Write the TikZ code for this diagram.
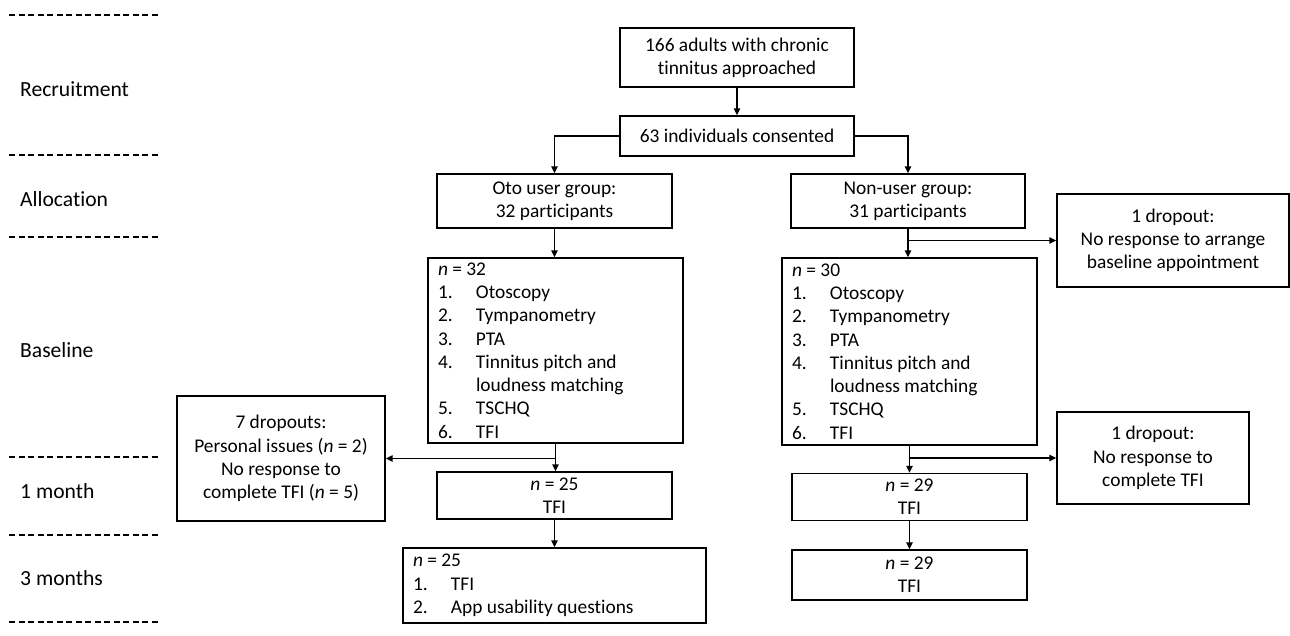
\documentclass[tikz,border=0pt]{standalone}
\usepackage{fontspec}
\setmainfont{Carlito}[Ligatures=NoCommon]
\usetikzlibrary{positioning,arrows.meta}

\newcommand{\listno}[1]{\makebox[38pt][l]{#1}}

\begin{document}
\begin{tikzpicture}[x=1pt,y=-1pt,
                every node/.style={font=\fontsize{19.4}{23.3}\selectfont},
                box/.style={draw, line width=1.4pt, inner sep=0pt, align=center},
                listbox/.style={draw, line width=1.4pt, inner xsep=10pt, inner ysep=0pt, align=flush left},
                stage/.style={anchor=west, inner sep=0pt, font=\fontsize{21.6}{26}\selectfont},
                sep/.style={line width=1.4pt, dash pattern=on 6pt off 3.5pt},
                flow/.style={line width=1.4pt, -{Triangle[length=7pt,width=6.5pt]}}]
            \useasboundingbox (0,0) rectangle (1290,635);

            \foreach \y in {15,155,237,457,535,622}
                \draw[sep] (9,\y) -- (161,\y);

            \node[stage] (recr) at (20,89) {Recruitment};
            \node[stage] (allo) at (20,199) {Allocation};
            \node[stage] (base) at (20,350) {Baseline};
            \node[stage] (mon1) at (20,491) {1 month};
            \node[stage] (mon3) at (20,578) {3 months};

            \node[box, minimum width=234pt, minimum height=59pt] (appr) at (737,57.5) {166 adults with chronic\\tinnitus approached};
            \node[box, minimum width=234pt, minimum height=40pt] (cons) at (737,136) {63 individuals consented};
            \node[box, minimum width=235pt, minimum height=54pt] (oto) at (554.5,201) {Oto user group:\\32 participants};
            \node[box, minimum width=234pt, minimum height=54pt] (non) at (908,201) {Non-user group:\\31 participants};
            \node[box, minimum width=232pt, minimum height=93pt] (drop1) at (1173,240.5) {1 dropout:\\No response to arrange\\baseline appointment};

            \node[listbox, text width=235pt, minimum height=185pt] (base1) at (555.5,350.5)
                {\textit{n} = 32\\\listno{1.}Otoscopy\\\listno{2.}Tympanometry\\\listno{3.}PTA\\\listno{4.}Tinnitus pitch and\\\listno{}loudness matching\\\listno{5.}TSCHQ\\\listno{6.}TFI};
            \node[listbox, text width=235pt, minimum height=187pt] (base2) at (909.5,351.5)
                {\textit{n} = 30\\\listno{1.}Otoscopy\\\listno{2.}Tympanometry\\\listno{3.}PTA\\\listno{4.}Tinnitus pitch and\\\listno{}loudness matching\\\listno{5.}TSCHQ\\\listno{6.}TFI};

            \node[box, minimum width=208pt, minimum height=125pt] (drop7) at (281,458.5) {7 dropouts:\\Personal issues (\textit{n} = 2)\\No response to\\complete TFI (\textit{n} = 5)};
            \node[box, minimum width=192pt, minimum height=92pt] (drop2) at (1153,458) {1 dropout:\\No response to\\complete TFI};

            \node[box, minimum width=235pt, minimum height=47pt] (fu1a) at (554.5,495.5) {\textit{n} = 25\\TFI};
            \node[box, minimum width=235pt, minimum height=47pt] (fu1b) at (909.5,497) {\textit{n} = 29\\TFI};
            \node[listbox, text width=283pt, minimum height=75pt] (fu3a) at (554.5,585.5) {\textit{n} = 25\\\listno{1.}TFI\\\listno{2.}App usability questions};
            \node[box, minimum width=235pt, minimum height=50pt] (fu3b) at (909.5,575) {\textit{n} = 29\\TFI};

            \draw[flow] (appr) -- (cons);
            \draw[flow] (cons.west) -| (oto);
            \draw[flow] (cons.east) -| (non);
            \draw[flow] (oto.south) -- (oto.south |- base1.north);
            \draw[flow] (non.south) -- (non.south |- base2.north);
            \draw[flow] (non.south |- drop1.west) -- (drop1.west);
            \draw[flow] (base1.south) -- (base1.south |- fu1a.north);
            \draw[flow] (base1.south |- drop7.east) -- (drop7.east);
            \draw[flow] (base2.south) -- (base2.south |- fu1b.north);
            \draw[flow] (base2.south |- drop2.west) -- (drop2.west);
            \draw[flow] (fu1a.south) -- (fu1a.south |- fu3a.north);
            \draw[flow] (fu1b) -- (fu3b);
        \end{tikzpicture}
\end{document}
